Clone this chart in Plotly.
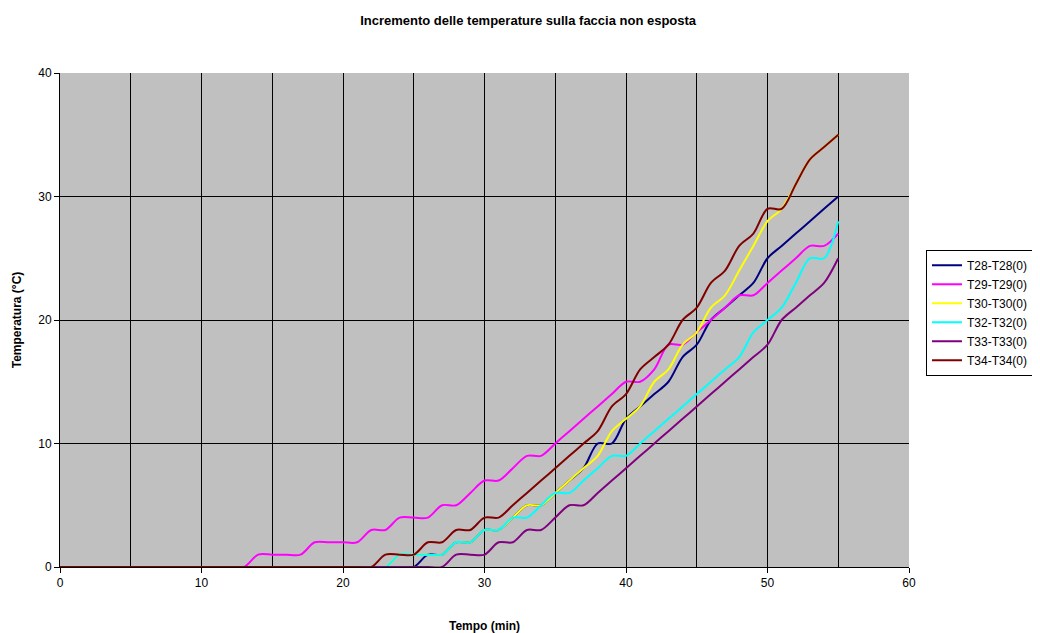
import plotly.graph_objects as go

minutes = list(range(0, 56))

T28 = [0]*26 + [1, 1, 2, 2, 3, 3, 4, 5, 5, 6, 7, 8, 10, 10, 12, 13, 14, 15, 17, 18, 20, 21, 22, 23, 25, 26, 27, 28, 29, 30]
T29 = [0]*14 + [1, 1, 1, 1, 2, 2, 2, 2, 3, 3, 4, 4, 4, 5, 5, 6, 7, 7, 8, 9, 9, 10, 11, 12, 13, 14, 15, 15, 16, 18, 18, 19, 20, 21, 22, 22, 23, 24, 25, 26, 26, 27]
T30 = [0]*24 + [1, 1, 1, 1, 2, 2, 3, 3, 4, 5, 5, 6, 7, 8, 9, 11, 12, 13, 15, 16, 18, 19, 21, 22, 24, 26, 28, 29, 31, 33, 34, 35]
T32 = [0]*24 + [1, 1, 1, 1, 2, 2, 3, 3, 4, 4, 5, 6, 6, 7, 8, 9, 9, 10, 11, 12, 13, 14, 15, 16, 17, 19, 20, 21, 23, 25, 25, 28]
T33 = [0]*28 + [1, 1, 1, 2, 2, 3, 3, 4, 5, 5, 6, 7, 8, 9, 10, 11, 12, 13, 14, 15, 16, 17, 18, 20, 21, 22, 23, 25]
T34 = [0]*23 + [1, 1, 1, 2, 2, 3, 3, 4, 4, 5, 6, 7, 8, 9, 10, 11, 13, 14, 16, 17, 18, 20, 21, 23, 24, 26, 27, 29, 29, 31, 33, 34, 35]

series = [
    ("T28-T28(0)", T28, "#000080"),
    ("T29-T29(0)", T29, "#FF00FF"),
    ("T30-T30(0)", T30, "#FFFF00"),
    ("T32-T32(0)", T32, "#00FFFF"),
    ("T33-T33(0)", T33, "#800080"),
    ("T34-T34(0)", T34, "#800000"),
]

fig = go.Figure()
for name, vals, col in series:
    fig.add_trace(go.Scatter(
        x=minutes, y=vals, name=name, mode="lines",
        line=dict(color=col, width=2, shape="spline", smoothing=0.9),
    ))

font_family = "Liberation Sans, Arial, sans-serif"
fig.update_layout(
    width=1032, height=625,
    margin=dict(l=52, r=131, t=65, b=66, autoexpand=False),
    paper_bgcolor="white",
    plot_bgcolor="#C0C0C0",
    font=dict(family=font_family, size=12, color="black"),
    title=dict(
        text="<b>Incremento delle temperature sulla faccia non esposta</b>",
        x=0.504, xanchor="center", y=0.98, yanchor="middle",
        font=dict(size=13, family=font_family, color="black"),
    ),
    legend=dict(
        x=1.02, xanchor="left", y=0.642, yanchor="top",
        bgcolor="white", bordercolor="black", borderwidth=1,
        font=dict(size=12, family=font_family),
        tracegroupgap=0, itemwidth=30,
    ),
    showlegend=True,
)
fig.update_xaxes(
    range=[0, 60], dtick=10, tick0=0,
    showgrid=True, gridcolor="black", gridwidth=1,
    minor=dict(dtick=5, showgrid=True, gridcolor="black", gridwidth=1),
    showline=True, linecolor="black", linewidth=1,
    ticks="outside", ticklen=5, tickcolor="black",
    zeroline=False, automargin=False,
    title=dict(text="<b>Tempo (min)</b>", font=dict(size=12), standoff=32),
    tickfont=dict(size=12),
)
fig.update_yaxes(
    range=[0, 40], dtick=10, tick0=0,
    showgrid=True, gridcolor="black", gridwidth=1,
    showline=True, linecolor="black", linewidth=1,
    ticks="outside", ticklen=5, tickcolor="black",
    zeroline=False, automargin=False,
    title=dict(text="<b>Temperatura (°C)</b>", font=dict(size=12), standoff=14),
    tickfont=dict(size=12),
)

fig.write_html("out.html")
